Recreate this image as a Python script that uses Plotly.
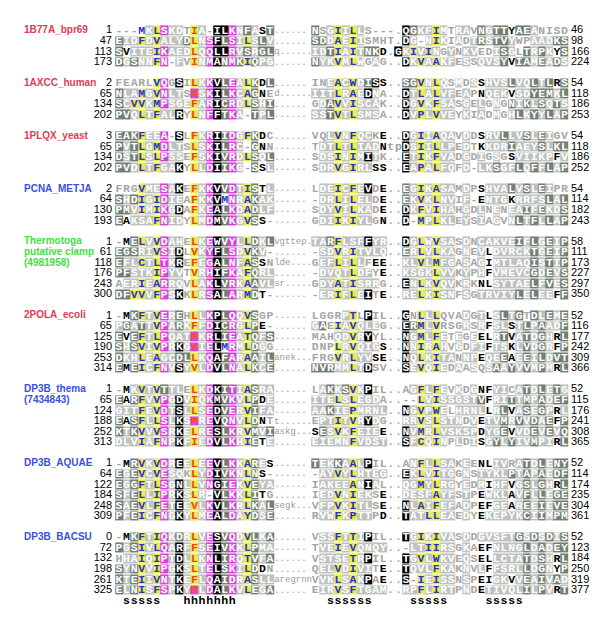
import plotly.graph_objects as go

# ---------------- data ----------------
LABEL_LINES = [["1B77A_bpr69"], ["1AXCC_human"], ["1PLQX_yeast"], ["PCNA_METJA"],
               ["Thermotoga", "putative clamp", "(4981958)"], ["2POLA_ecoli"],
               ["DP3B_thema", "(7434843)"], ["DP3B_AQUAE"], ["DP3B_BACSU"]]
LABEL_KIND = ["red", "red", "red", "blue", "green", "red", "blue", "blue", "blue"]

G1_START = [1, 47, 113, 173]
G1_END = [46, 98, 166, 224]
G1_LEFT = ["---MKLSKDTIA-ILKNFAST", "EIDFDVALYDLNSFLSILSLV", "SVITEIKAEDLQQLLRVSRGL", "DGSNNFN-FVINMANMKIQPG"]
G1_LCLS = ["gggblymllgolgkkmldlBd", "dllylyllldolmkdmlyldl", "dBlllymlllolmkkmldldd", "dldllymglgolmkdmdydll"]
G1_INS = ["", "", "q", ""]
G1_RIGHT = ["NSGIILLS---.QGKFIMTRAVNGTTYAEANISD", "SDDAEIISMHT.DG-NIKIADTRSTVYWPAADKS",
            "IDTIAITNKD.GKIVINGYNKVEDISGLTRPKYS", "NYKVMLWGAG..DKVAAKFESSQVSYVIAMEADS"]
G1_RCLS = ["dglylylgggggkdllylgllgdlddBddlgggg", "ddlylylgggggklglylglgldlddlggllldd",
           "lldylylddBgklylylglgllggldlgdldlBd", "dllylylglgggklylyllglgllldBddldldl"]

G2_START = [2, 65, 134, 202]
G2_END = [54, 118, 186, 253]
G2_LEFT = ["FEARLVQGSILKKVLEALKDL", "NLAMGVNLTSMSKILKCAGNE", "SCVVKMPSGEFARICRDLSHI", "PVQLTFALRYLNFFTKA-TPL"]
G2_LCLS = ["gggggymgkgolmkdmlydBd", "dllylymllgplmkdmlydBg", "dlyylymlllolmkdmlydld", "ddlylyllkgolmkdmlgdld"]
G2_INS = ["", "d", "", ""]
G2_RIGHT = ["INEACWDISS..SGVNLQSMDSSHVSLVQLTLRS", "IITLRAEDNA..DTLALVFEAPNQEKVSDYEMKL",
            "GDAVVISCAK..DGVKFSASGELGNGNIKLSQTS", "SSTVTLSMSA..DVPLVVEYKIADMGHLKYYLAP"]
G2_RCLS = ["gglylyldkBggddylylglglBllldlldldBd", "lllylylklgggklylyllglgBlllBlldddld",
           "gldylylllgggklylyllglglglgdldldldl", "lldylylllgggklylyllglglglgldldldld"]

G3_START = [3, 65, 134, 202]
G3_END = [54, 118, 186, 252]
G3_LEFT = ["EAKFEEA-SLFKRIIDGFKDC", "PVTLGMDLTSLSKILRC-GNN", "DSTLSLPSSEFSKIVRDLSQL", "PVDLTFGAKYLLDIIKG-SSL"]
G3_LCLS = ["dddyllmgkgolmkdmlydBg", "dldylymllgolmkdmlgdBg", "dldylymllgolmkdmlydld", "ddlylyllkgolmkdmlgdBl"]
G3_INS = ["", "", "", ""]
G3_RIGHT = ["VQLVNFQCKE..DGIIAQAVDDSRVLLVSLEIGV", "TDTLTLIADNtpDSIILLPEDTKKDRIAEYSLKL",
            "SDSINIMITK..ETIKFVADGDIGSGSVIIKPFV", "SDRVGIRLSS..EAPALFQFD-LKSGFLQFFLAP"]
G3_RCLS = ["gglylyllgBggklylyllglgBlldlldldlgg", "gllylylllBiiklylyllglgBllldllldldd",
           "gllylylklgggklylyllglglglgBlllllBl", "gllylyllBBggklylyllglglldlldldldld"]

G4_START = [2, 64, 130, 193]
G4_END = [54, 114, 182, 243]
G4_LEFT = ["FRGVMESAKEFKKVVDTISTL", "SHDIGIDIEAFKKVMNRAKAK", "PMVIMIKGDAFKEALKDADLF", "EAKSAFNIDYLMDMVKGVSS-"]
G4_LCLS = ["gggyllmlkgolmkdmlydBl", "dldylymllgolmkbmlydll", "ddlylymlkgolmkdmlydll", "dBlllymllgolmkdmlydBg"]
G4_INS = ["", "", "", ""]
G4_RIGHT = ["LDEICFEVDE..EGIKASAMDPSHVALVSLEIPR", "-DRLILELDE..EKVKLNVIF-ENTGKRRFSLAL",
            "SDYVILKADE..DKFVIHAHGDLNENEAIFEKDS", "GDIIKIYLGN..D-MPLKLEYSIAGVNLTFLLAP"]
G4_RCLS = ["gllylylkgBggdlylyllglgBllldldldlgg", "gllylyllgBggdlylyllglgBlllBlllldld",
           "gllylyllgBggklylyllglglglglldldlld", "gllylyllgBggkgylyllglglglgldldldld"]

G5_START = [1, 61, 118, 176, 243, 300]
G5_END = [58, 111, 173, 227, 297, 350]
G5_LEFT = ["-MELVVDAHELKEWVYLLDKL", "EGSRIVSIDLVKYFLSDVKV-", "EFLCTLTKREFEGALNFASSN",
           "PFSTKIPYVTVRHIFKAFQRL", "AERIEARRQVLAKLVRKAAVL", "DFVVVFPSKKLRSALARMDT-"]
G5_LCLS = ["gBdylymllgolmkdmlydld", "dddllymlkgolmkdmlydlg", "dllylymlkgolmkdmlydBg",
           "ddlllymllgolmkdmlydll", "gllylymllgolmkdmlydll", "ddyylymlkgolmkdmlydBg"]
G5_INS = ["vgttep", "", "lde", "", "sr", ""]
G5_RIGHT = ["TARFLSFFYR..DGLWVSASDNCAKVEIFLGEIP", "-SDVRITVLQ..ERLVLKAGNEVLDVRCKTGEIP",
            "GEFLILLFEE..KLVLMFGASAGIMTLAQISTIP", "-DVQTLDFYE..KSGKLVVKYPHFVMEVCGDEVS",
            "GDYATISRRG..ENLKVQVKRKNLSYTAELFVES", "-ERIFLEITE..RELKISNFSGTRVIYLELEEFF"]
G5_RCLS = ["lldylllkllggklylyllglgllllldldldld", "gllylyllllggdlylyllglglBllllldldld",
           "gllylylgBBggllylyllglglBllllldldld", "gllllyllgBggllllyllglglBllllldldld",
           "gllylylllgggklylyllglgBBllllldldld", "gllylylkgBggllylyllglgllllldldllBd"]

G6_START = [1, 65, 125, 190, 253, 314]
G6_END = [52, 116, 177, 242, 309, 366]
G6_LEFT = ["-MKFTVEREHLLKPLQQVSGP", "PGATTVPARKFFDICRGLPE-", "EVEFTLPQATMKRLIEATQFS",
           "SHSVIVPRKGVIELMRMLDGG", "DKHLEAGCDLLKQAFARAAIL", "EMEICFNVSYVLDVLNALKCE"]
G6_LCLS = ["gBdylymldgolmkdmlydgg", "ldldlymldlolmkdmlydBg", "dBdylymlllplmkdmlydld",
           "dldylymlklplmkbmlydlg", "dllylyllddolmkdmlydld", "dBdylymlklolmkdmlydld"]
G6_INS = ["", "", "", "", "anek", ""]
G6_RIGHT = ["LGGRPTLPIL..GNLLLQVADGTLSLTGTDLEME", "GAEIAVQLEG..ERMLVRSGRSRFSLSTLPAADF",
            "MAHQDVRYYL..NGMLFETEGEELRTVATDGHRL", "DNPLRVQIGS..NNIRAHVGDFIFTSKLVDGRFP",
            "FRGVRLYVSE..NQLKITANNPEQEEAEEILDVT", "NVRMMLTDSV..SEVQIEDAASQSAAYVVMPMRL"]
G6_RCLS = ["gggglygkggggkgylyggglglBldldgdldld", "ldgylylllgggkdylyggglglBllBldldlld",
           "gggllylkggggklylylglglBBldBldldlBd", "gggylylllBggklylylglgllBllBldldlBd",
           "gggylyllBBggklylyllgllBlldBldldldd", "dddllylkggggklylylglglgldldldldlBd"]

G7_START = [1, 65, 124, 188, 252, 313]
G7_END = [52, 115, 176, 241, 308, 365]
G7_LEFT = ["-MKVTVTTLELKDKITIASRA", "EARFVVPGDVIQKMVKVLPDE", "GITFEVDTSLLSEDVERVIFA",
           "EASFLLSLKSMREVQNVLDNT", "KTKVVVSRKELRESLKRVMVI", "DLVIAFNPKFIEDVLKHIETE"]
G7_LCLS = ["gBlylydllgolmkdmlydll", "dBdylymlklolmkdmlydBl", "lllylymlklolmkdmlydll",
           "dBdylymlklplmkdmlydBg", "dldylymlklolmkdmlydld", "lllylymlklolmkdmlydBl"]
G7_INS = ["", "", "", "t", "askg", ""]
G7_RIGHT = ["LAKKSVKPIL..AGFLFEVKDGNFYICATDLETG", "ITELSLEGDA..--LVISSGSTVFRITTMPADEF",
            "AAKIEPMRNL..NGVPWELHRNLLRLVASEGPRL", "EPTITVRYDG..RRVSLSTNDVETVMRVVDAEFP",
            "SESVKFEIEE..NVMRLVSKSPDYGEVVDEVEVQ", "EIEMNFVDST..SFCQINPLDISGYLYIVMPIRL"]
G7_RCLS = ["gldldylkgggggllylylglglBBllgldldldl"[0:12] + "glylylglglBBllgldldldl",
           "lllylylllgggggylyllllldBlldldldldd",
           "lldllyllllggklylylgllllBldBldldlBl", "gllylylklgggllylylllglBlldldldldBd",
           "BdlylylllBggklylylllllBlldBlldldld", "lllllyllllggklylylglglBldldlldllBd"]

G8_START = [1, 64, 122, 184, 248, 309]
G8_END = [52, 114, 174, 235, 304, 361]
G8_LEFT = ["-MRVKVDREELEEVLKKARES", "EGEVCVESQKLYDIVKNLNS-", "EGGFTLSGNLLVNGIEKVEYA",
           "SFELLIPRKSLR-VLKKLITG", "SAEVLFETEEVLKVLKRLKAL", "PFEICFNGKYLMEALDAYDSE"]
G8_LCLS = ["gBdylymlklolmkdmlydlB", "dldylymllgolmkdmlydBg", "dldylymlklolmkdmlydll",
           "dldylymlklolgkdmlydBg", "dldylymlklolmkdmlydld", "dldylymlklolmkdmlydld"]
G8_INS = ["", "", "", "", "segk", ""]
G8_RIGHT = ["TEKKAALPIL..ANFLLSAKEENLIVRATDLENY", "-AYVYLHTEG..EKLVITGGNSTYKLPTAPAEDF",
            "IAKEEANIAL..QGMYLRGYEDRIHFVGSLGHRL", "IEDVNIEKSE..DESFAYFSTPEWKLAVFLLEGE",
            "VFPVKITLSE..NLAIFEFADPEFGEAREEIEVE", "RVWFKPTTPD..TATLLEAEDYEKEPYKCIIMPM"]
G8_RCLS = ["dlldlylkgggg" + "glylyllglgBBllgldldldd", "gllylyllllggklylyllglglllldldldldd",
           "gllllylklggg" + "llylyllglglBllBldldlBd", "gllylyllgBggllllyllglgBlllBldldldd",
           "gllylyllgBggklylyllglgBBllBldldldd", "gllylyllgBggkllyyllglgBllllldldldd"]

G9_START = [0, 72, 132, 198, 261, 325]
G9_END = [52, 123, 184, 250, 319, 377]
G9_LEFT = ["-MKFTIQKDRLVESVQDVLKA", "PGSIVLQARFFSEIVKKLPMA", "HHAIQIPTDLLKNLIRQTVFA",
           "SYNVVIPGKSLTELSKILDDN", "KTEIIVNTKEFLQAIDRASLL", "ELNISFSPKYMLDALKVLEGA"]
G9_LCLS = ["gBdylymldlolmkdmlydld", "dldylymlklolmkdmlydll", "gllylymlklolmkdmlydld",
           "dldylymlklolmkdmlydBg", "dldylymlklolmkdmlydll", "dldylymlklplmkdmlydld"]
G9_INS = ["", "", "", "", "aregrnn", ""]
G9_RIGHT = ["VSSFTTIPIL..TGIKIVASDDGVSFTGSDSDIS", "TVEIEVQNQY..-LTIIRSGKAEFNLNGLDADEY",
            "VSTSETRPIL..TGVLWKVEQSELLCTATDSHRL", "QELVDIVITE..TQVLFKAKNVLFFSRLLDGNYP",
            "VVKLSAKPAE..S-IEISSNSPEIGKVVEAIVAD", "EIRVSFTGAM..RPFLIRTPNDETIVQLILPVRT"]
G9_RCLS = ["gllylylkggggklylyllglgllllldldldld", "gllylyllllgggllyyllglgBBlllldldldd",
           "gllllylkggggklylyllglgBBlllldldlBd", "gllylyllgBggklllyllglglBlllldldlBd",
           "gllylylkgBggkgylyllglgBBllBldldldl", "gllylyllllggllylyllglgBllllldldlBd"]

SS_TEXT = ["sssss", "hhhhhhh", "ssssss", "sssss", "sssss"]
SS_COL = [1, 9, 28, 39, 49]

GROUPS = [
    (G1_START, G1_END, G1_LEFT, G1_LCLS, G1_INS, G1_RIGHT, G1_RCLS),
    (G2_START, G2_END, G2_LEFT, G2_LCLS, G2_INS, G2_RIGHT, G2_RCLS),
    (G3_START, G3_END, G3_LEFT, G3_LCLS, G3_INS, G3_RIGHT, G3_RCLS),
    (G4_START, G4_END, G4_LEFT, G4_LCLS, G4_INS, G4_RIGHT, G4_RCLS),
    (G5_START, G5_END, G5_LEFT, G5_LCLS, G5_INS, G5_RIGHT, G5_RCLS),
    (G6_START, G6_END, G6_LEFT, G6_LCLS, G6_INS, G6_RIGHT, G6_RCLS),
    (G7_START, G7_END, G7_LEFT, G7_LCLS, G7_INS, G7_RIGHT, G7_RCLS),
    (G8_START, G8_END, G8_LEFT, G8_LCLS, G8_INS, G8_RIGHT, G8_RCLS),
    (G9_START, G9_END, G9_LEFT, G9_LCLS, G9_INS, G9_RIGHT, G9_RCLS),
]

# ---------------- layout / style ----------------
CW = 7.55         # width of one alignment column (px)
X0 = 111.0        # centre of column 0
Y0 = 22.7         # centre of first row
DY = 10.56        # row pitch
RIGHT_COL0 = 26
NCOL = 60
NSLOT = 55
SS_SLOT = 54

# codes: d dark box, l light box, y yellow box/blue text, o yellow box/orange text,
#        p magenta box/orange text, m magenta box, k black box, g grey text,
#        b blue text, B bold black text, i small insertion
BG_CODE = {"d": 0, "l": 1, "y": 2, "o": 2, "m": 3, "p": 3, "k": 4}
BG_COLORS = ["#737f73", "#bec2be", "#ebeb55", "#e03fe0", "#000000"]
TXT_STYLE = {"g": "#a6a6a6", "d": "#ffffff", "l": "#ffffff", "m": "#ffffff", "k": "#ffffff",
             "y": "#2637c8", "b": "#2637c8", "o": "#e8471c", "p": "#f05a14",
             "B": "#000000", "i": "#a0a0a0"}
LABEL_COLORS = {"red": "#e33a55", "blue": "#3a4fe0", "green": "#3fe03f"}
MONO = "Liberation Mono, Courier New, monospace"
SANS = "Liberation Sans, Arial, sans-serif"


def col_x(c):
    return X0 + CW * c


def slot_y(s):
    return Y0 + DY * s


z = [[None] * NCOL for _ in range(NSLOT)]
txt = {}
small_x, small_y, small_t = [], [], []
num_l = ([], [], [])
num_r = ([], [], [])
lab = {"red": ([], [], []), "blue": ([], [], []), "green": ([], [], [])}


def put(col, slot, ch, cls):
    if ch in ".-":
        cls = "g"
    if cls in BG_CODE:
        z[slot][col] = BG_CODE[cls]
    color = TXT_STYLE.get(cls, "#a6a6a6")
    d = txt.setdefault(color, ([], [], []))
    d[0].append(col_x(col))
    d[1].append(slot_y(slot))
    d[2].append(ch)


slot = 0
for gi, (st, en, left, lcls, ins, right, rcls) in enumerate(GROUPS):
    for li, line in enumerate(LABEL_LINES[gi]):
        L = lab[LABEL_KIND[gi]]
        L[0].append(16)
        L[1].append(slot_y(slot + li))
        L[2].append(line)
    for r in range(len(st)):
        y = slot_y(slot)
        seq, cl = left[r], lcls[r].ljust(len(left[r]), "g")
        for c, ch in enumerate(seq):
            put(c, slot, ch, cl[c])
        seq2, cl2 = right[r], rcls[r].ljust(len(right[r]), "g")
        for c, ch in enumerate(seq2):
            put(RIGHT_COL0 + c, slot, ch, cl2[c])
        if ins[r]:
            s = ins[r] + "." * max(0, 7 - len(ins[r]))
        else:
            s = "......"
        small_x.append(col_x(20) + 4.2)
        small_y.append(y)
        small_t.append(s)
        num_l[0].append(104); num_l[1].append(y); num_l[2].append(str(st[r]))
        num_r[0].append(563); num_r[1].append(y); num_r[2].append(str(en[r]))
        slot += 1
    slot += 1

ss_x, ss_y, ss_t = [], [], []
for s, c0 in zip(SS_TEXT, SS_COL):
    for i, ch in enumerate(s):
        ss_x.append(col_x(c0 + i)); ss_y.append(slot_y(SS_SLOT)); ss_t.append(ch)

fig = go.Figure()
K = len(BG_COLORS)
cs = []
for i, c in enumerate(BG_COLORS):
    cs.append([i / K, c]); cs.append([(i + 1) / K, c])
fig.add_trace(go.Heatmap(x=[col_x(c) for c in range(NCOL)], y=[slot_y(s) for s in range(NSLOT)],
                         z=z, colorscale=cs, zmin=-0.5, zmax=K - 0.5, showscale=False,
                         xgap=0, ygap=1, hoverinfo="skip"))

for color, (xs, ys, ts) in txt.items():
    fig.add_trace(go.Scatter(x=xs, y=ys, text=ts, mode="text", textposition="middle center",
                             textfont=dict(family=MONO, size=11.5, color=color, weight="bold"),
                             hoverinfo="skip", showlegend=False))

fig.add_trace(go.Scatter(x=small_x, y=small_y, text=small_t, mode="text", textposition="middle right",
                         textfont=dict(family=MONO, size=9, color="#9a9a9a"),
                         hoverinfo="skip", showlegend=False))
fig.add_trace(go.Scatter(x=num_l[0], y=num_l[1], text=num_l[2], mode="text", textposition="middle left",
                         textfont=dict(family=SANS, size=11, color="#000000"),
                         hoverinfo="skip", showlegend=False))
fig.add_trace(go.Scatter(x=num_r[0], y=num_r[1], text=num_r[2], mode="text", textposition="middle right",
                         textfont=dict(family=SANS, size=11, color="#000000"),
                         hoverinfo="skip", showlegend=False))
for kind, (xs, ys, ts) in lab.items():
    fig.add_trace(go.Scatter(x=xs, y=ys, text=ts, mode="text", textposition="middle right",
                             textfont=dict(family=SANS, size=10, color=LABEL_COLORS[kind], weight="bold"),
                             hoverinfo="skip", showlegend=False))
fig.add_trace(go.Scatter(x=ss_x, y=ss_y, text=ss_t, mode="text", textposition="middle center",
                         textfont=dict(family=MONO, size=11.5, color="#000000", weight="bold"),
                         hoverinfo="skip", showlegend=False))

fig.update_layout(width=605, height=618, margin=dict(l=0, r=0, t=0, b=0),
                  paper_bgcolor="white", plot_bgcolor="white", showlegend=False,
                  xaxis=dict(range=[0, 605], visible=False, fixedrange=True),
                  yaxis=dict(range=[618, 0], visible=False, fixedrange=True))
fig.write_html("out.html")
